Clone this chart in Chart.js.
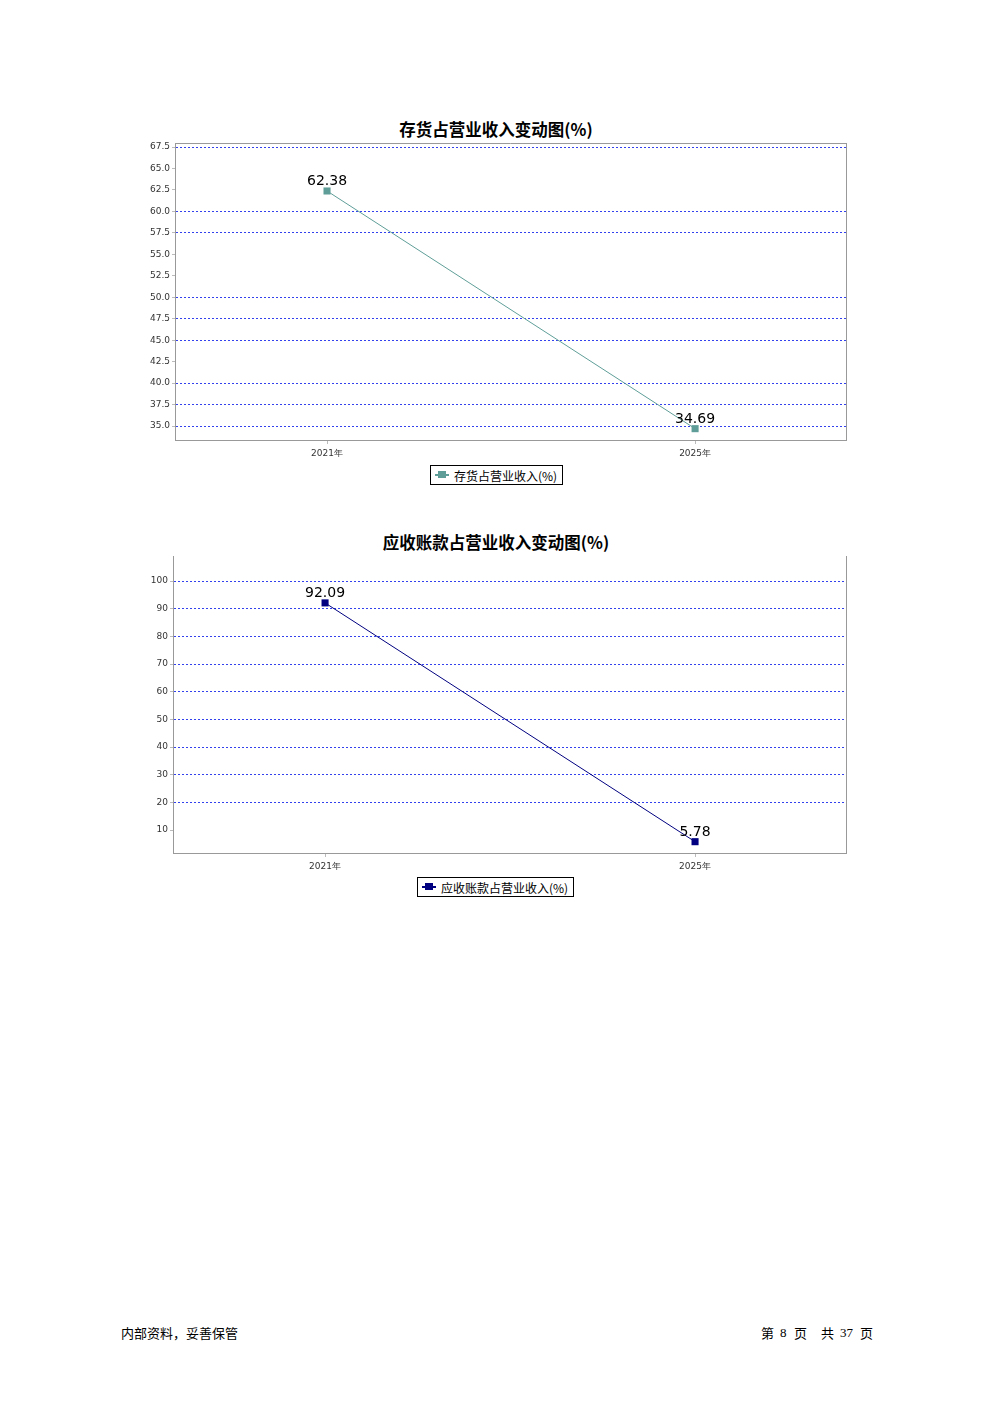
<!DOCTYPE html>
<html lang="zh">
<head>
<meta charset="UTF-8">
<title>存货与应收账款占营业收入变动图</title>
<script src="https://cdn.jsdelivr.net/npm/chart.js"></script>
<style>
  * { margin: 0; padding: 0; box-sizing: border-box; }
  body { width: 992px; height: 1403px; background: #fff; position: relative; font-family: "Noto Sans CJK SC", "DejaVu Sans", sans-serif; color: #000; }
  .title { position: absolute; left: 0; width: 992px; text-align: center; font-size: 16.5px; font-weight: bold; line-height: 20px; }
  .box { position: absolute; }
  .legend { position: absolute; border: 1px solid #000; height: 20px; display: flex; align-items: center; padding: 0 5px 0 4px; font-size: 12px; white-space: nowrap; background: #fff; }
  .legend .mk { position: relative; width: 14px; height: 10px; margin-right: 5px; }
  .legend .mk::before { content: ""; position: absolute; left: 0; right: 0; top: 4px; height: 2px; background: var(--c); }
  .legend .mk::after { content: ""; position: absolute; left: 3px; top: 1px; width: 8px; height: 7px; background: var(--c); }
  .foot { position: absolute; top: 1324px; font-size: 13px; line-height: 18px; }
  .num { font-family: "Liberation Serif", serif; font-size: 13px; }
</style>
</head>
<body>
<div class="title" style="top:119px">存货占营业收入变动图(%)</div>
<div class="box" style="left:120px;top:135px;width:740px;height:330px"><canvas id="c1"></canvas></div>
<div class="legend" style="left:430px;top:465px;--c:#5f9e98"><span class="mk"></span>存货占营业收入(%)</div>

<div class="title" style="top:532px">应收账款占营业收入变动图(%)</div>
<div class="box" style="left:118px;top:548px;width:742px;height:330px"><canvas id="c2"></canvas></div>
<div class="legend" style="left:417px;top:877px;--c:#000080"><span class="mk"></span>应收账款占营业收入(%)</div>

<div class="foot" style="left:121px">内部资料，妥善保管</div>
<div class="foot" style="left:761px">第</div>
<div class="foot num" style="left:780px">8</div>
<div class="foot" style="left:794px">页</div>
<div class="foot" style="left:821px">共</div>
<div class="foot num" style="left:840px">37</div>
<div class="foot" style="left:860px">页</div>

<script>
// categories
const years = ['2021年', '2025年'];

// series values
const inventoryPct = [62.38, 34.69];
const receivablePct = [92.09, 5.78];

// tick labels
const ticks1 = [35, 37.5, 40, 42.5, 45, 47.5, 50, 52.5, 55, 57.5, 60, 62.5, 65, 67.5];
const grid1 = [35, 37.5, 40, 45, 47.5, 50, 57.5, 60, 67.5];
const ticks2 = [10, 20, 30, 40, 50, 60, 70, 80, 90, 100];
const grid2 = [20, 30, 40, 50, 60, 70, 80, 90, 100];

const tickFont = { family: 'DejaVu Sans', size: 9 };

// frame lines on the open sides of the plot
const framePlugin = {
  id: 'frame',
  afterDraw(chart, args, opts) {
    const a = chart.chartArea, ctx = chart.ctx;
    ctx.save();
    ctx.strokeStyle = '#999';
    ctx.lineWidth = 1;
    ctx.beginPath();
    ctx.moveTo(a.right + 0.5, a.top);
    ctx.lineTo(a.right + 0.5, a.bottom);
    if (opts.top) {
      ctx.moveTo(a.left, a.top + 0.5);
      ctx.lineTo(a.right, a.top + 0.5);
    }
    ctx.stroke();
    ctx.restore();
  }
};

// value labels above the points
const labelPlugin = {
  id: 'vlabels',
  afterDatasetsDraw(chart) {
    const ctx = chart.ctx;
    const ds = chart.data.datasets[0];
    ctx.save();
    ctx.font = '14px "DejaVu Sans"';
    ctx.fillStyle = '#000';
    ctx.textAlign = 'center';
    ctx.textBaseline = 'alphabetic';
    chart.getDatasetMeta(0).data.forEach((pt, i) => {
      ctx.fillText(ds.data[i].y.toFixed(2), pt.x, pt.y - 6);
    });
    ctx.restore();
  }
};

function makeChart(id, values, color, yMin, yMax, xMin, xMax, yTicks, gridOn, digits, topFrame, padLeft) {
  new Chart(document.getElementById(id), {
    type: 'line',
    data: {
      datasets: [{
        data: values.map((v, i) => ({ x: i, y: v })),
        borderColor: color,
        backgroundColor: color,
        borderWidth: 1,
        pointStyle: 'rect',
        pointRadius: 5,
        pointBorderWidth: 0,
        tension: 0
      }]
    },
    options: {
      responsive: true,
      maintainAspectRatio: false,
      animation: false,
      layout: { autoPadding: false, padding: { top: 8, right: 14, left: 0, bottom: 0 } },
      plugins: { legend: { display: false }, tooltip: { enabled: false }, frame: { top: topFrame } },
      scales: {
        x: {
          type: 'linear',
          min: xMin, max: xMax,
          afterBuildTicks: s => { s.ticks = years.map((_, i) => ({ value: i })); },
          afterFit: s => { s.height = 25; },
          grid: { drawOnChartArea: false, tickLength: 4, tickColor: '#bbb' },
          border: { color: '#999', width: 1 },
          ticks: { font: tickFont, color: '#333', padding: 4, callback: v => years[v] }
        },
        y: {
          min: yMin, max: yMax,
          afterBuildTicks: s => { s.ticks = yTicks.map(v => ({ value: v })); },
          afterFit: s => { s.width = padLeft; },
          grid: {
            color: c => gridOn.includes(c.tick && c.tick.value) ? '#3340ee' : 'rgba(0,0,0,0)',
            tickLength: 3,
            tickColor: '#bbb',
            tickBorderDash: []
          },
          border: { color: '#999', width: 1, dash: [2, 2] },
          ticks: { font: tickFont, color: '#333', padding: 2, callback: v => v.toFixed(digits) }
        }
      }
    },
    plugins: [framePlugin, labelPlugin]
  });
}

makeChart('c1', inventoryPct, '#5f9e98', 33.37, 67.97, -0.413, 1.410, ticks1, grid1, 1, true, 55);
makeChart('c2', receivablePct, '#000080', 1.69, 109.04, -0.411, 1.408, ticks2, grid2, 0, false, 55);
</script>
</body>
</html>
